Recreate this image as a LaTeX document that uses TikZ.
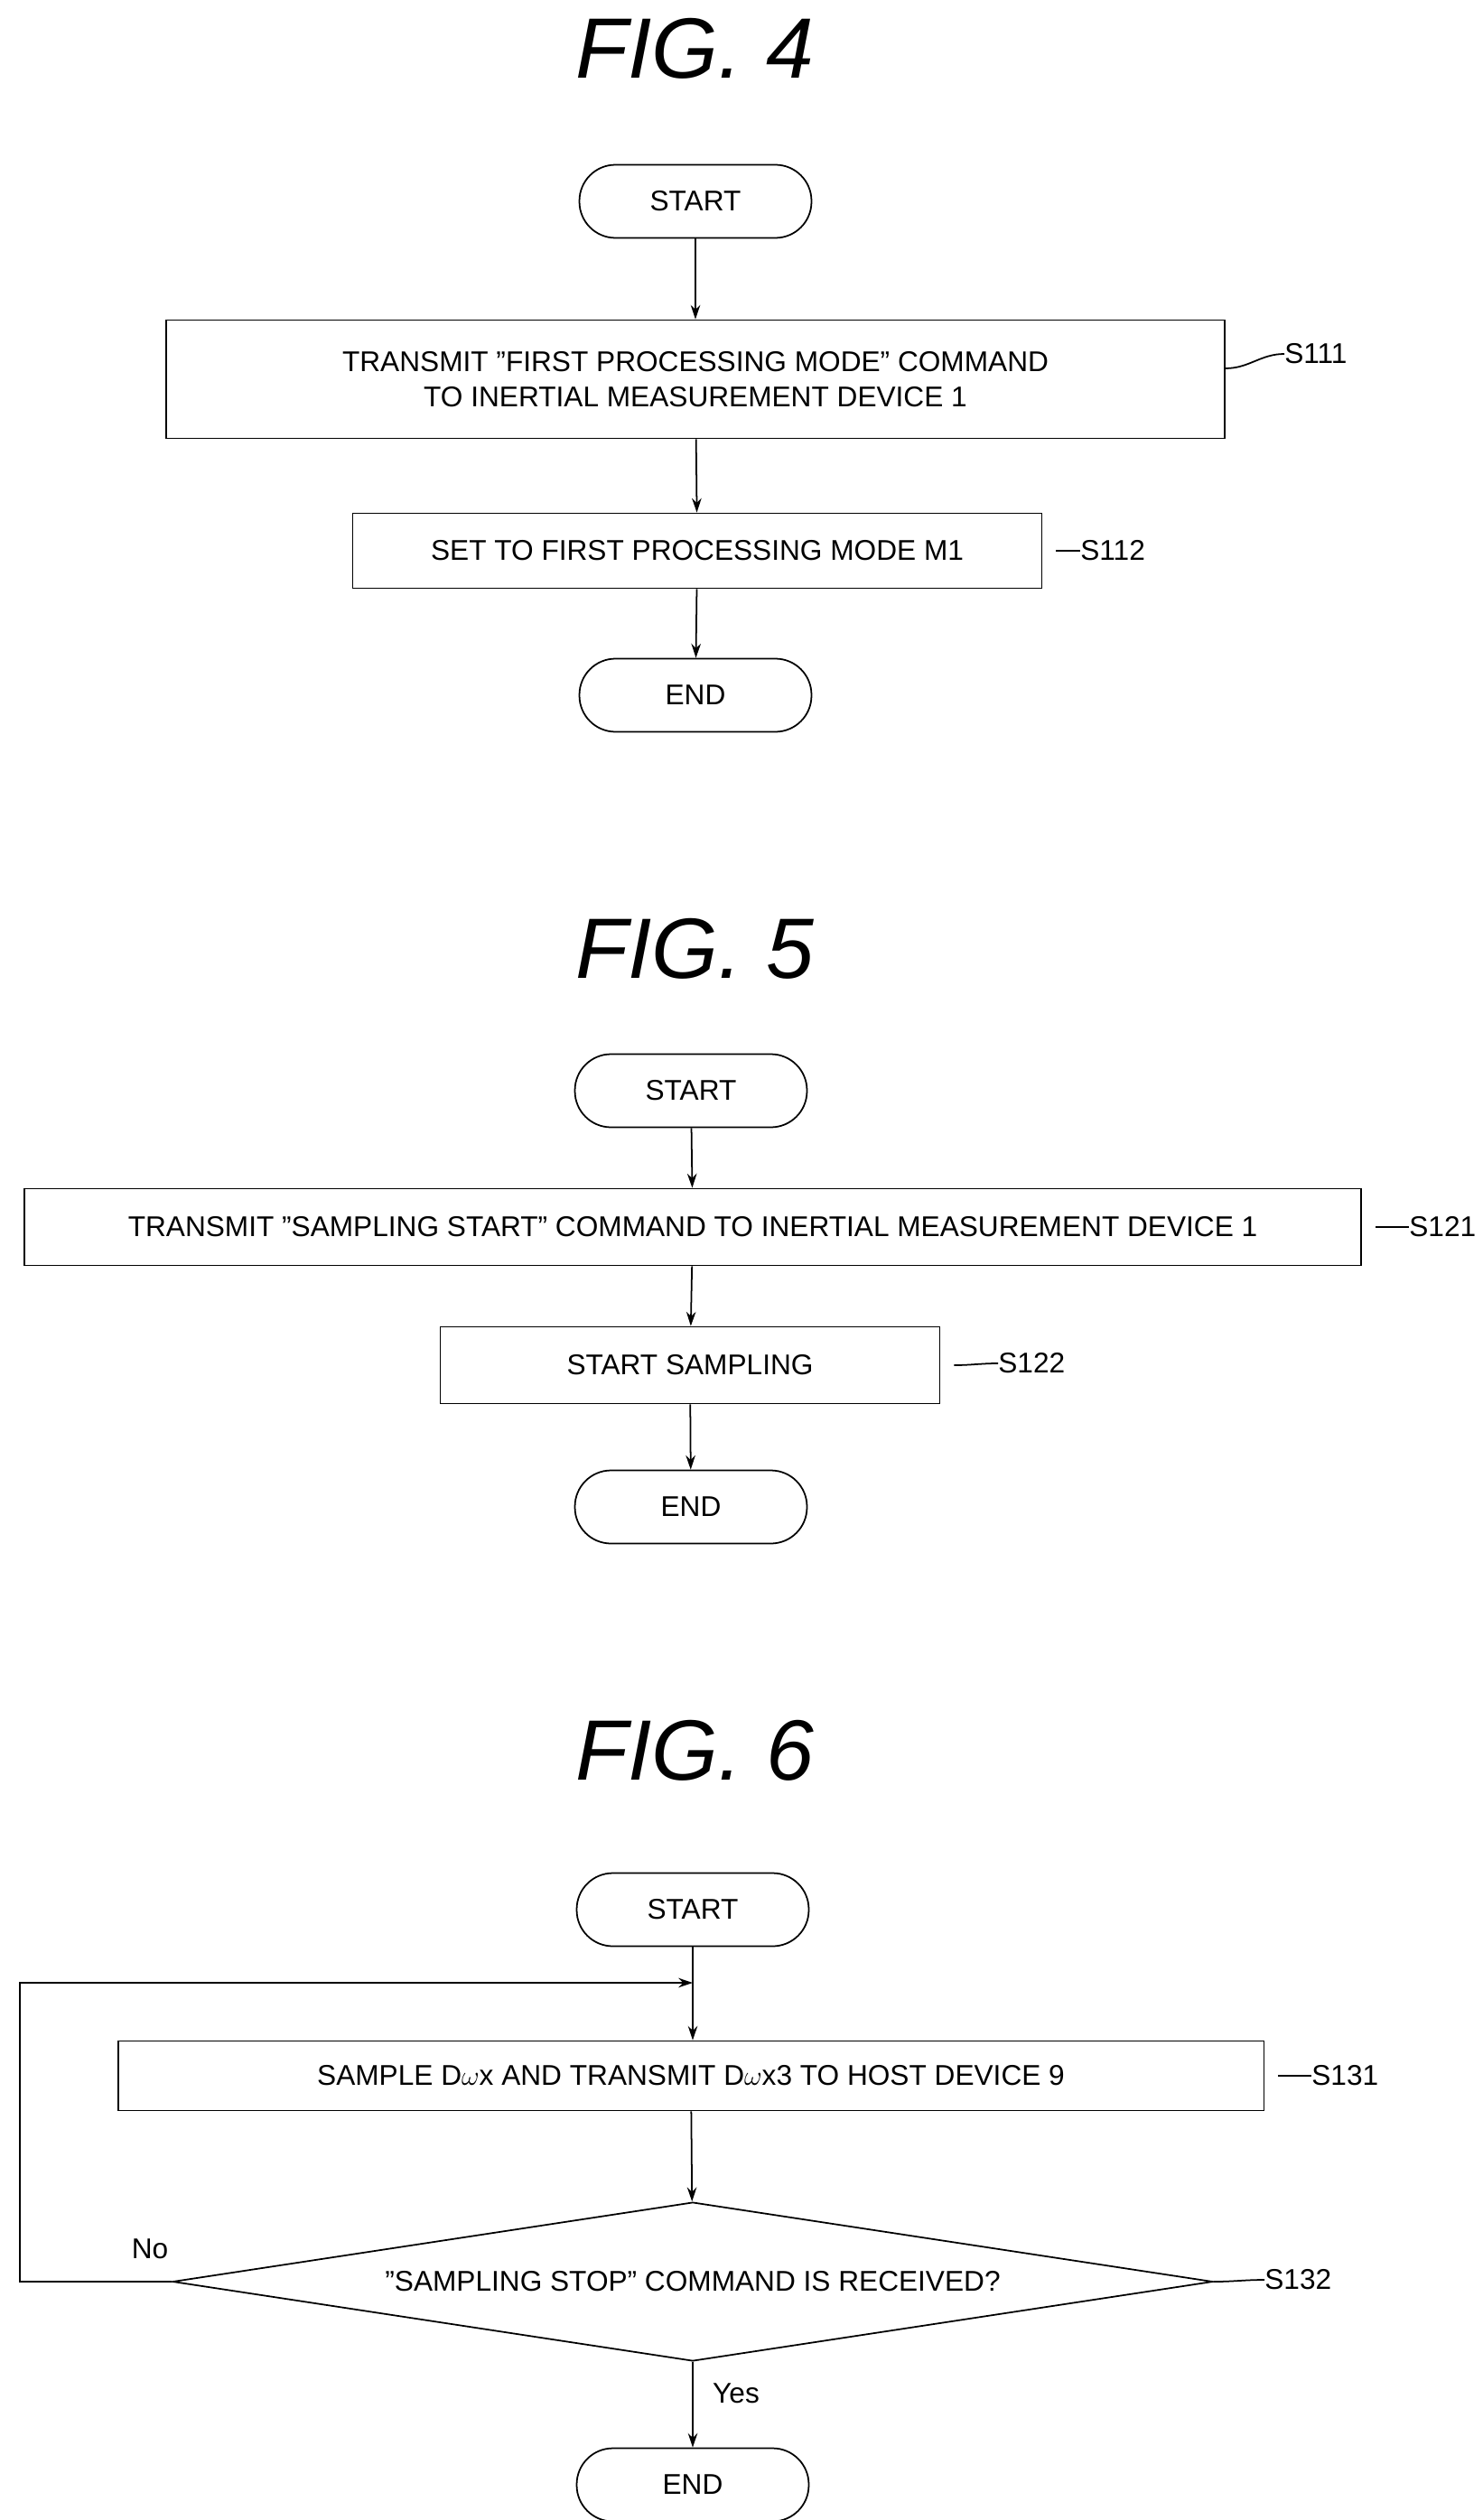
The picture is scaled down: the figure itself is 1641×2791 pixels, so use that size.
\documentclass[tikz,border=0pt]{standalone}
\usepackage{fontspec}
\setmainfont{Liberation Sans}
\usetikzlibrary{shapes.geometric,arrows.meta}
\begin{document}
\begin{tikzpicture}[x=0.02cm,y=-0.02cm,
  every node/.style={font=\fontsize{18}{22}\selectfont},
  term/.style={draw,line width=1pt,rounded corners=0.8cm,minimum width=5.14cm,minimum height=1.62cm,inner sep=0pt},
  box/.style={draw,line width=1pt,minimum height=1.66cm,inner sep=0pt,align=center},
  dec/.style={draw,line width=1pt,diamond,aspect=6.5,inner sep=0pt,minimum width=23.04cm,minimum height=3.52cm},
  arr/.style={line width=1pt,-{Stealth[length=9pt,width=6pt]}},
  lead/.style={line width=1pt},
  title/.style={font=\fontsize{54}{60}\selectfont\itshape},
  lbl/.style={anchor=west,inner sep=0pt}]
\useasboundingbox (0,0) rectangle (1641,2791);
% FIG 4
\node[title] (t4) at (769,54) {FIG. 4};
\node[term] (s4) at (770,223) {START};
\node[box,minimum width=23.44cm,minimum height=2.62cm] (b111) at (770,420) {TRANSMIT "FIRST PROCESSING MODE" COMMAND\\TO INERTIAL MEASUREMENT DEVICE 1};
\node[box,minimum width=15.26cm] (b112) at (772,610) {SET TO FIRST PROCESSING MODE M1};
\node[term] (e4) at (770,770) {END};
\draw[arr] (s4) -- (b111);
\draw[arr] (b111) -- (b112);
\draw[arr] (b112) -- (e4);
\node[lbl] (l111) at (1422,392) {S111};
\draw[lead] (b111.east |- 0,408) to[out=0,in=180] (l111.west);
\node[lbl] (l112) at (1196,610) {S112};
\draw[lead] ([xshift=0.3cm]b112.east) to[out=0,in=180] (l112.west);
% FIG 5
\node[title] (t5) at (769,1051) {FIG. 5};
\node[term] (s5) at (765,1208) {START};
\node[box,minimum width=29.62cm,minimum height=1.7cm] (b121) at (767,1359) {TRANSMIT "SAMPLING START" COMMAND TO INERTIAL MEASUREMENT DEVICE 1};
\node[box,minimum width=11.06cm,minimum height=1.7cm] (b122) at (764,1512) {START SAMPLING};
\node[term] (e5) at (765,1669) {END};
\draw[arr] (s5) -- (b121);
\draw[arr] (b121) -- (b122);
\draw[arr] (b122) -- (e5);
\node[lbl] (l121) at (1560,1359) {S121};
\draw[lead] ([xshift=0.3cm]b121.east) to[out=0,in=180] (l121.west);
\node[lbl] (l122) at (1105,1510) {S122};
\draw[lead] ([xshift=0.3cm]b122.east) to[out=0,in=180] (l122.west);
% FIG 6
\node[title] (t6) at (769,1939) {FIG. 6};
\node[term] (s6) at (767,2115) {START};
\node[box,minimum width=25.38cm,minimum height=1.54cm] (b131) at (765,2299) {SAMPLE D$\omega$x AND TRANSMIT D$\omega$x3 TO HOST DEVICE 9};
\node[dec] (d132) at (767,2527) {"SAMPLING STOP" COMMAND IS RECEIVED?};
\node[term] (e6) at (767,2752) {END};
\coordinate (j) at (767,2196);
\draw[line width=1pt] (s6) -- (j);
\draw[arr] (j) -- (b131.north -| j);
\draw[arr] (b131) -- (d132);
\draw[arr] (d132) -- (e6);
\draw[arr] (d132.west) -- (22,2527) -- (22,2196) -- (j);
\node (no) at (166,2491) {No};
\node (yes) at (815,2651) {Yes};
\node[lbl] (l131) at (1452,2299) {S131};
\draw[lead] ([xshift=0.3cm]b131.east) to[out=0,in=180] (l131.west);
\node[lbl] (l132) at (1400,2525) {S132};
\draw[lead] (d132.east) to[out=0,in=180] (l132.west);
\end{tikzpicture}
\end{document}
